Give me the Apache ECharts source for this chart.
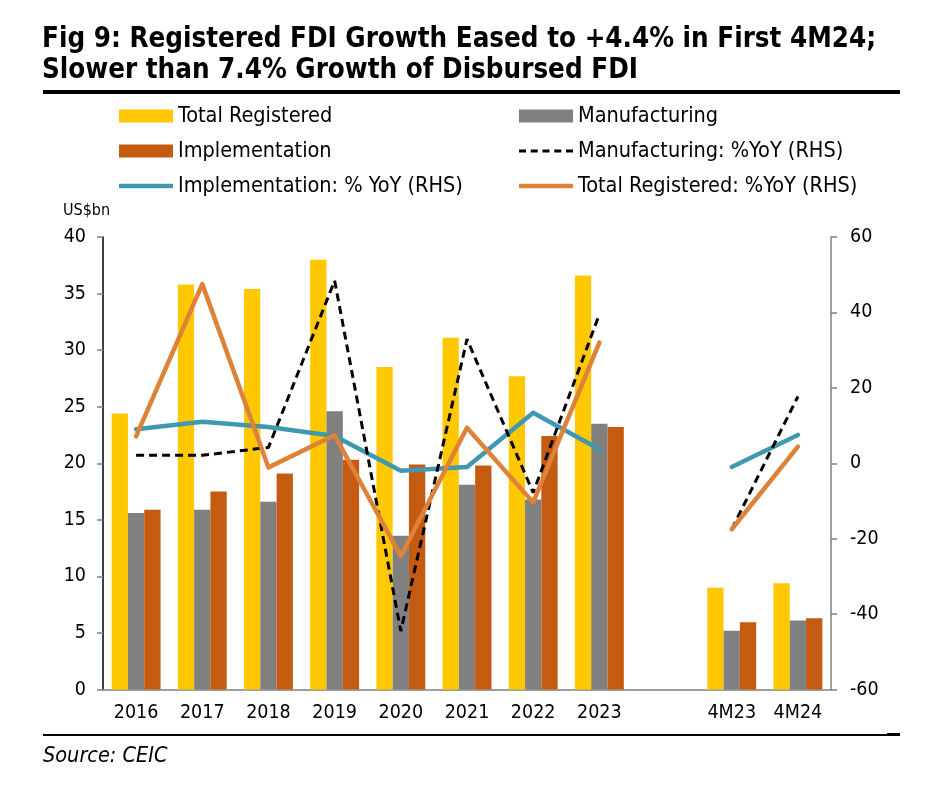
<!DOCTYPE html>
<html>
<head>
<meta charset="utf-8">
<script src="https://cdn.jsdelivr.net/npm/echarts@6/dist/echarts.min.js"></script>
<style>
html,body{margin:0;padding:0;background:#fff;}
#chart{width:927px;height:785px;}
</style>
</head>
<body>
<div id="chart"></div>
<script>
const categories = ['2016','2017','2018','2019','2020','2021','2022','2023','','4M23','4M24'];
const totalRegistered = [24.4, 35.8, 35.4, 38.0, 28.5, 31.1, 27.7, 36.6, null, 9.0, 9.4];
const manufacturing   = [15.6, 15.9, 16.6, 24.6, 13.6, 18.1, 16.8, 23.5, null, 5.2, 6.1];
const implementation  = [15.9, 17.5, 19.1, 20.3, 19.9, 19.8, 22.4, 23.2, null, 5.95, 6.3];
const manufYoY  = [2.1, 2.1, 4.2, 48.4, -44.5, 32.9, -7.8, 39.5, null, -17.5, 17.7];
const implYoY   = [9.0, 11.0, 9.6, 7.2, -2.0, -1.0, 13.4, 3.7, null, -1.0, 7.5];
const totalYoY  = [7.1, 47.5, -1.1, 7.4, -24.6, 9.4, -10.4, 32.0, null, -17.5, 4.4];
const leftTicks = {min: 0, max: 40, interval: 5};
const rightTicks = {min: -60, max: 60, interval: 20};

const FONT = "'DejaVu Sans Condensed', 'DejaVu Sans', sans-serif";
const chart = echarts.init(document.getElementById('chart'), null, {renderer: 'canvas'});

const legendText = {color: '#000', fontSize: 21.5, fontFamily: FONT};
const solidIcon = 'path://M0,0 L54,0 L54,4.5 L0,4.5 Z';
const dashIcon = 'path://M0,0h7v3h-7zM11.75,0h7v3h-7zM23.5,0h7v3h-7zM35.25,0h7v3h-7zM47,0h7v3h-7z';

chart.setOption({
  animation: false,
  backgroundColor: '#fff',
  textStyle: {fontFamily: FONT},
  title: {
    text: 'Fig 9: Registered FDI Growth Eased to +4.4% in First 4M24;\nSlower than 7.4% Growth of Disbursed FDI',
    left: 42, top: 24, padding: 0,
    textStyle: {fontSize: 27.5, fontWeight: 'bold', color: '#000', lineHeight: 31, fontFamily: FONT}
  },
  legend: [
    {
      orient: 'vertical', left: 119, top: 105, padding: 0, itemGap: 13, itemWidth: 54, itemHeight: 13,
      textStyle: legendText,
      data: [
        {name: 'Total Registered', icon: 'rect'},
        {name: 'Implementation', icon: 'rect'},
        {name: 'Implementation: % YoY (RHS)', icon: solidIcon}
      ]
    },
    {
      orient: 'vertical', left: 519, top: 105, padding: 0, itemGap: 13, itemWidth: 54, itemHeight: 13,
      textStyle: legendText,
      data: [
        {name: 'Manufacturing', icon: 'rect'},
        {name: 'Manufacturing: %YoY (RHS)', icon: dashIcon},
        {name: 'Total Registered: %YoY (RHS)', icon: solidIcon}
      ]
    }
  ],
  grid: {left: 103, right: 96, top: 237, bottom: 95.5, containLabel: false},
  xAxis: {
    type: 'category',
    data: categories,
    axisLine: {lineStyle: {color: '#808080', width: 1.5}},
    axisTick: {show: false},
    axisLabel: {color: '#000', fontSize: 19.5, margin: 13, interval: 0, fontFamily: FONT}
  },
  yAxis: [
    {
      type: 'value', min: leftTicks.min, max: leftTicks.max, interval: leftTicks.interval,
      axisLine: {show: true, lineStyle: {color: '#000', width: 1.5}},
      axisTick: {show: true, length: 6, lineStyle: {color: '#808080', width: 1.5}},
      axisLabel: {color: '#000', fontSize: 19.5, margin: 17, fontFamily: FONT},
      splitLine: {show: false}
    },
    {
      type: 'value', min: rightTicks.min, max: rightTicks.max, interval: rightTicks.interval,
      position: 'right',
      axisLine: {show: true, lineStyle: {color: '#808080', width: 1.5}},
      axisTick: {show: true, length: 6, lineStyle: {color: '#808080', width: 1.5}},
      axisLabel: {color: '#000', fontSize: 19.5, margin: 19, fontFamily: FONT},
      splitLine: {show: false}
    }
  ],
  series: [
    {name: 'Total Registered', type: 'bar', data: totalRegistered, barWidth: 16.3, barGap: '0%',
     itemStyle: {color: '#FFC800'}},
    {name: 'Manufacturing', type: 'bar', data: manufacturing, barWidth: 16.3, barGap: '0%',
     itemStyle: {color: '#808080'}},
    {name: 'Implementation', type: 'bar', data: implementation, barWidth: 16.3, barGap: '0%',
     itemStyle: {color: '#C55A11'}},
    {name: 'Implementation: % YoY (RHS)', type: 'line', yAxisIndex: 1, data: implYoY,
     showSymbol: false, symbol: 'none', connectNulls: false,
     itemStyle: {color: '#4098B0'},
     lineStyle: {color: '#4098B0', width: 4.5, cap: 'round', join: 'round'}},
    {name: 'Manufacturing: %YoY (RHS)', type: 'line', yAxisIndex: 1, data: manufYoY,
     showSymbol: false, symbol: 'none', connectNulls: false,
     itemStyle: {color: '#000'},
     lineStyle: {color: '#000', width: 3, type: [8, 5]}},
    {name: 'Total Registered: %YoY (RHS)', type: 'line', yAxisIndex: 1, data: totalYoY,
     showSymbol: false, symbol: 'none', connectNulls: false,
     itemStyle: {color: '#DE823A'},
     lineStyle: {color: '#DE823A', width: 4.5, cap: 'round', join: 'round'}}
  ],
  graphic: [
    {type: 'rect', shape: {x: 43, y: 90, width: 857, height: 4}, style: {fill: '#000'}, silent: true},
    {type: 'rect', shape: {x: 43, y: 734, width: 845, height: 2}, style: {fill: '#000'}, silent: true},
    {type: 'rect', shape: {x: 887, y: 733, width: 13, height: 3}, style: {fill: '#000'}, silent: true},
    {type: 'text', left: 63, top: 203, style: {text: 'US$bn', fill: '#000', fontSize: 16, fontFamily: FONT}},
    {type: 'text', left: 43, top: 745, style: {text: 'Source: CEIC', fill: '#000', fontSize: 21.5, fontStyle: 'italic', fontFamily: FONT}}
  ]
});
</script>
</body>
</html>
